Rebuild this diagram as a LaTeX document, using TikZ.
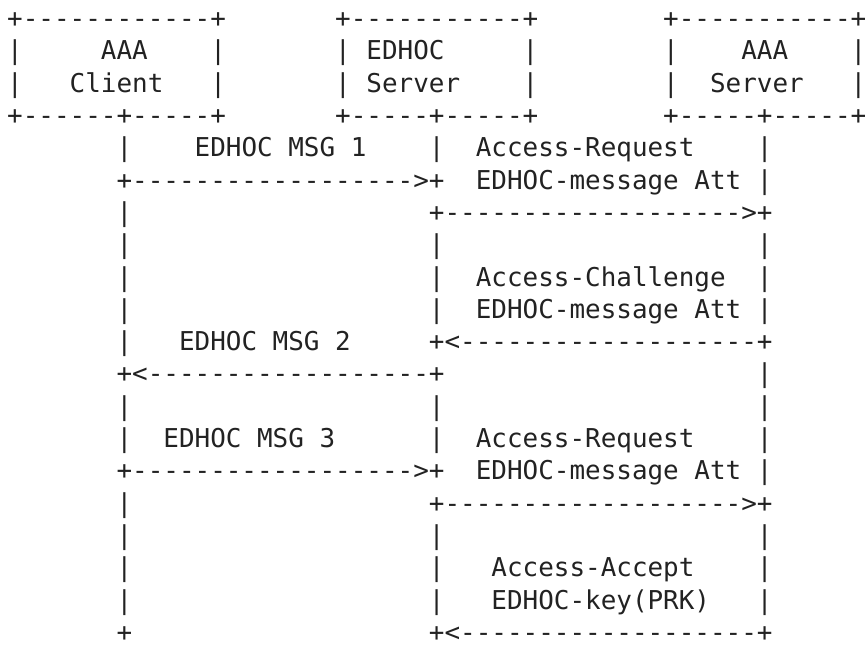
\documentclass[tikz,border=0pt]{standalone}
\usepackage{fontspec}
\setmonofont{DejaVu Sans Mono}
\definecolor{ink}{HTML}{222222}
\ExplSyntaxOn
\cs_new:Npn \myrep #1#2 {\prg_replicate:nn{#1}{#2}}
\ExplSyntaxOff
\newcommand\asc[4]{\node[asctext] (#1) at ({7.2+#2*15.62},{27.6+#3*32.3}) {#4};}
\begin{document}
\begin{tikzpicture}[x=0.75pt,y=-0.75pt,
  asctext/.style={anchor=base west,inner sep=0pt,outer sep=0pt,text=ink,
    font=\ttfamily\fontsize{19.46pt}{23pt}\selectfont}]
\useasboundingbox (0,0) rectangle (865,646);
% boxes
\asc{ctop}{0}{0}{+\myrep{12}{-}+}
\asc{stop}{21}{0}{+\myrep{11}{-}+}
\asc{atop}{42}{0}{+\myrep{11}{-}+}
\asc{cl1}{0}{1}{|}\asc{ct1}{6}{1}{AAA}\asc{cr1}{13}{1}{|}
\asc{sl1}{21}{1}{|}\asc{st1}{23}{1}{EDHOC}\asc{sr1}{33}{1}{|}
\asc{al1}{42}{1}{|}\asc{at1}{47}{1}{AAA}\asc{ar1}{54}{1}{|}
\asc{cl2}{0}{2}{|}\asc{ct2}{4}{2}{Client}\asc{cr2}{13}{2}{|}
\asc{sl2}{21}{2}{|}\asc{st2}{23}{2}{Server}\asc{sr2}{33}{2}{|}
\asc{al2}{42}{2}{|}\asc{at2}{45}{2}{Server}\asc{ar2}{54}{2}{|}
\asc{cbot}{0}{3}{+\myrep{6}{-}+\myrep{5}{-}+}
\asc{sbot}{21}{3}{+\myrep{5}{-}+\myrep{5}{-}+}
\asc{abot}{42}{3}{+\myrep{5}{-}+\myrep{5}{-}+}
% row 4-5: msg 1 / access-request
\asc{c4}{7}{4}{|}\asc{m1}{12}{4}{EDHOC MSG 1}\asc{s4}{27}{4}{|}
\asc{ar4}{30}{4}{Access-Request}\asc{a4}{48}{4}{|}
\asc{arr1}{7}{5}{+\myrep{18}{-}>+}\asc{att5}{30}{5}{EDHOC-message Att}\asc{a5}{48}{5}{|}
\asc{c6}{7}{6}{|}\asc{arr2}{27}{6}{+\myrep{19}{-}>+}
\asc{c7}{7}{7}{|}\asc{s7}{27}{7}{|}\asc{a7}{48}{7}{|}
\asc{c8}{7}{8}{|}\asc{s8}{27}{8}{|}\asc{ac8}{30}{8}{Access-Challenge}\asc{a8}{48}{8}{|}
\asc{c9}{7}{9}{|}\asc{s9}{27}{9}{|}\asc{att9}{30}{9}{EDHOC-message Att}\asc{a9}{48}{9}{|}
\asc{c10}{7}{10}{|}\asc{m2}{11}{10}{EDHOC MSG 2}\asc{arr3}{27}{10}{+<\myrep{19}{-}+}
\asc{arr4}{7}{11}{+<\myrep{18}{-}+}\asc{a11}{48}{11}{|}
\asc{c12}{7}{12}{|}\asc{s12}{27}{12}{|}\asc{a12}{48}{12}{|}
\asc{c13}{7}{13}{|}\asc{m3}{10}{13}{EDHOC MSG 3}\asc{s13}{27}{13}{|}
\asc{ar13}{30}{13}{Access-Request}\asc{a13}{48}{13}{|}
\asc{arr5}{7}{14}{+\myrep{18}{-}>+}\asc{att14}{30}{14}{EDHOC-message Att}\asc{a14}{48}{14}{|}
\asc{c15}{7}{15}{|}\asc{arr6}{27}{15}{+\myrep{19}{-}>+}
\asc{c16}{7}{16}{|}\asc{s16}{27}{16}{|}\asc{a16}{48}{16}{|}
\asc{c17}{7}{17}{|}\asc{s17}{27}{17}{|}\asc{acc17}{31}{17}{Access-Accept}\asc{a17}{48}{17}{|}
\asc{c18}{7}{18}{|}\asc{s18}{27}{18}{|}\asc{key18}{31}{18}{EDHOC-key(PRK)}\asc{a18}{48}{18}{|}
\asc{c19}{7}{19}{+}\asc{arr7}{27}{19}{+<\myrep{19}{-}+}
\end{tikzpicture}
\end{document}
